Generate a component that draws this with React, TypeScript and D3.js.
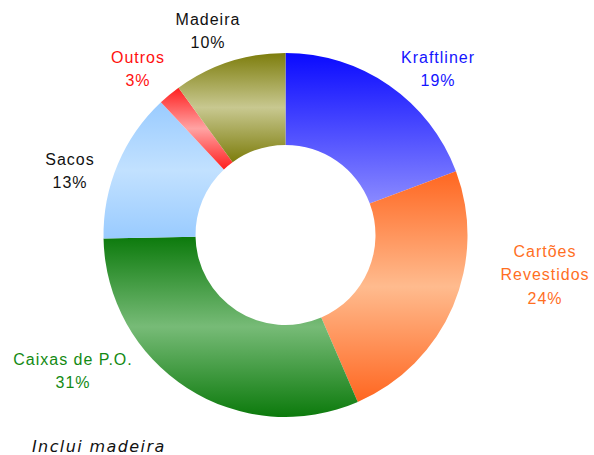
import React from "react";
import * as d3 from "d3";

const categories = ["Kraftliner", "Cartões Revestidos", "Caixas de P.O.", "Sacos", "Outros", "Madeira"];
const shares = [19.3, 24.2, 31.2, 13.3, 2.0, 10.0];
const pctLabels = ["19%", "24%", "31%", "13%", "3%", "10%"];
const labelLines = [["Kraftliner"], ["Cartões", "Revestidos"], ["Caixas de P.O."], ["Sacos"], ["Outros"], ["Madeira"]];
const edgeColors = ["#0a0aff", "#ff6620", "#0c7a0c", "#99cbff", "#ff1f1f", "#7d7d0c"];
const midColors = ["#8a8aff", "#ffbb8e", "#77bb77", "#c2e1ff", "#ffa3a3", "#c8c890"];
const reflected = [false, true, true, true, true, true];
const textColors = ["#1414ff", "#ff6f1f", "#138a13", "#111111", "#ff1010", "#111111"];
const footnote = "Inclui madeira";

const W = 594, H = 455;
const cx = 285.5, cy = 235, R = 182, r0 = 90;
const labelPos: [number, number][] = [
  [438, 63], [545, 257], [73, 365], [70, 165], [138, 63], [208, 25],
];

export default function App() {
  const pie = d3.pie<number>().sort(null).startAngle(0).endAngle(2 * Math.PI)(shares);
  const arc = d3.arc<d3.PieArcDatum<number>>().innerRadius(r0).outerRadius(R);
  return (
    <svg width={W} height={H} style={{ position: "absolute", left: 0, top: 0, background: "#fff" }}>
      <defs>
        {categories.map((c, i) => (
          <linearGradient key={c} id={`g${i}`} x1="0" y1="0" x2="0" y2="1">
            {reflected[i] ? (
              <>
                <stop offset="0" stopColor={edgeColors[i]} />
                <stop offset="0.5" stopColor={midColors[i]} />
                <stop offset="1" stopColor={edgeColors[i]} />
              </>
            ) : (
              <>
                <stop offset="0" stopColor={edgeColors[i]} />
                <stop offset="1" stopColor={midColors[i]} />
              </>
            )}
          </linearGradient>
        ))}
      </defs>
      <g transform={`translate(${cx},${cy})`}>
        {pie.map((d, i) => (
          <path key={i} d={arc(d) || ""} fill={`url(#g${i})`} />
        ))}
      </g>
      <g fontFamily="'Liberation Sans', Arial, sans-serif" fontSize={16} textAnchor="middle" letterSpacing={1}>
        {categories.map((c, i) => {
          const [x, y] = labelPos[i];
          const lines = [...labelLines[i], pctLabels[i]];
          return (
            <text key={c} fill={textColors[i]}>
              {lines.map((l, j) => (
                <tspan key={j} x={x} y={y + j * 23.3}>{l}</tspan>
              ))}
            </text>
          );
        })}
      </g>
      <text x={32} y={451.5} fontFamily="'DejaVu Sans', Verdana, sans-serif" fontStyle="italic" fontSize={16} letterSpacing={1.4} fill="#111">
        {footnote}
      </text>
    </svg>
  );
}
